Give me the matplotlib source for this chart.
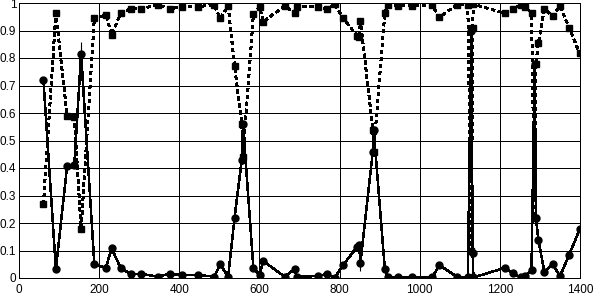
import matplotlib

matplotlib.use("Agg")
import matplotlib.pyplot as plt  # noqa: E402

plt.rcParams["font.family"] = ["Liberation Sans", "DejaVu Sans"]

# shared x positions for both series
X = [61, 92, 120, 138, 155, 188, 217, 231, 254, 279, 305, 346, 376, 408, 447,
     487, 502, 522, 538, 556, 559, 585, 601, 609, 663, 688, 693, 747, 768, 788,
     809, 844, 849, 852, 883, 885, 913, 921, 946, 980, 1031, 1049, 1092, 1120,
     1129, 1132, 1134, 1213, 1232, 1253, 1263, 1279, 1287, 1290, 1296, 1311,
     1332, 1350, 1373, 1399]

# solid line, circle markers
CIRCLE = [0.72, 0.032, 0.407, 0.41, 0.815, 0.05, 0.037, 0.108, 0.035, 0.015,
          0.015, 0.005, 0.015, 0.011, 0.011, 0.005, 0.05, 0.005, 0.22, 0.43,
          0.56, 0.035, 0.011, 0.062, 0.005, 0.032, 0.005, 0.007, 0.015, 0.001,
          0.047, 0.114, 0.12, 0.055, 0.46, 0.54, 0.032, 0.002, 0.002, 0.002,
          0.002, 0.047, 0.005, 0.003, 0.90, 0.09, 0.002, 0.037, 0.017, 0.002,
          0.007, 0.029, 0.78, 0.22, 0.14, 0.023, 0.05, 0.007, 0.084, 0.177]

# dotted line, square markers
SQUARE = [0.27, 0.963, 0.59, 0.584, 0.18, 0.944, 0.956, 0.884, 0.963, 0.98,
          0.98, 0.993, 0.98, 0.985, 0.987, 0.993, 0.944, 0.989, 0.77, 0.56,
          0.44, 0.96, 0.987, 0.932, 0.989, 0.965, 0.987, 0.985, 0.977, 0.996,
          0.944, 0.88, 0.875, 0.936, 0.54, 0.46, 0.965, 0.993, 0.989, 0.99,
          0.993, 0.948, 0.993, 0.993, 0.10, 0.91, 0.995, 0.963, 0.977, 0.993,
          0.985, 0.965, 0.22, 0.78, 0.853, 0.977, 0.953, 0.989, 0.91, 0.817]

# a few visible error bars on the circle series
ERR_X = [155, 852, 1399]
ERR_Y = [0.815, 0.055, 0.177]
ERR_LO = [0.0, 0.03, 0.04]
ERR_HI = [0.045, 0.0, 0.0]

X_TICKS = [0, 200, 400, 600, 800, 1000, 1200, 1400]
Y_TICKS = [0, 0.1, 0.2, 0.3, 0.4, 0.5, 0.6, 0.7, 0.8, 0.9, 1.0]
Y_LABELS = ["0", "0.1", "0.2", "0.3", "0.4", "0.5", "0.6", "0.7", "0.8", "0.9", "1"]


def main() -> None:
    fig = plt.figure(figsize=(6.01, 2.99), dpi=100)
    ax = fig.add_axes([19 / 601, 21 / 299, 561 / 601, 275 / 299])

    ax.plot(X, SQUARE, color="black", ls=(0, (2.2, 2.2)), lw=1.1, marker="s",
            ms=5, antialiased=False, zorder=3)
    ax.plot(X, CIRCLE, color="black", ls="-", lw=1.1, marker="o",
            ms=5, antialiased=False, zorder=4)
    ax.errorbar(ERR_X, ERR_Y, yerr=[ERR_LO, ERR_HI], fmt="none",
                ecolor="black", elinewidth=0.8, capsize=0, zorder=4)

    ax.set_xlim(0, 1400)
    ax.set_ylim(0, 1)
    ax.set_xticks(X_TICKS)
    ax.set_yticks(Y_TICKS)
    ax.set_yticklabels(Y_LABELS)
    ax.tick_params(length=0, labelsize=8.5)
    ax.tick_params(axis="x", pad=4)
    ax.tick_params(axis="y", pad=2)
    ax.grid(True, color="black", lw=0.72, antialiased=False)
    ax.set_axisbelow(True)
    for sp in ax.spines.values():
        sp.set_linewidth(0.72)

    fig.savefig("out.png", dpi=100)
    plt.close(fig)


if __name__ == "__main__":
    main()
